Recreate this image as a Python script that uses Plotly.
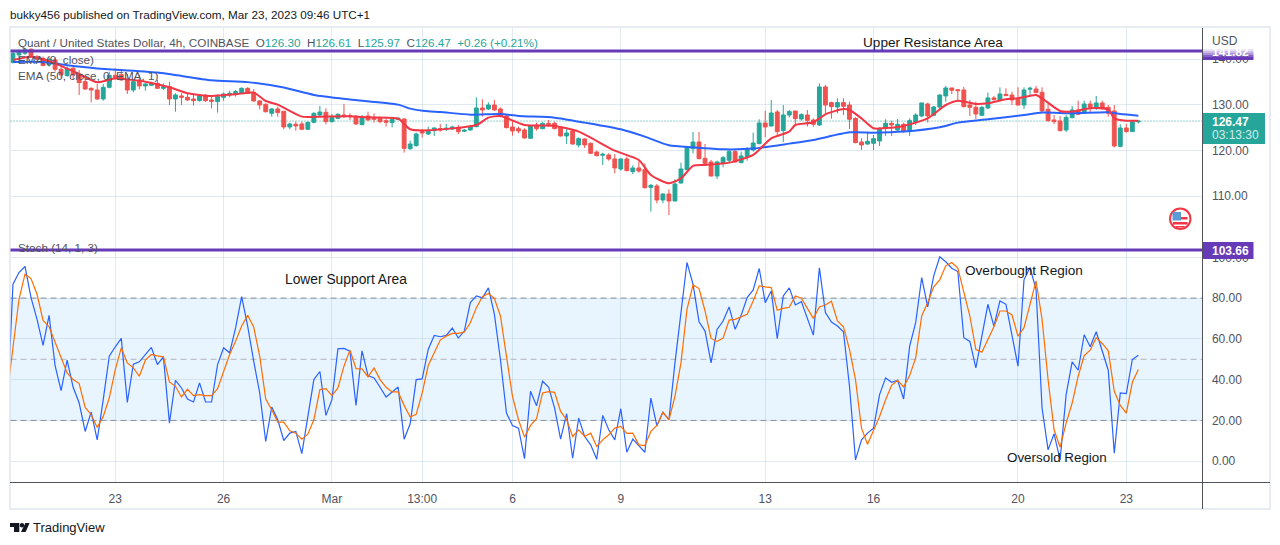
import plotly.graph_objects as go
from plotly.subplots import make_subplots

# 4h candles, Quant / USD, one entry per bar
opens = [139.27, 140.95, 141.31, 142.19, 140.58, 140.22, 138.75, 139.85, 137.81, 136.42,
         138.03, 136.78, 135.1, 133.64, 133.28, 131.31, 133.86, 136.49, 136.64, 135.47,
         133.28, 135.47, 134.16, 134.3, 134.74, 133.64, 134.0, 131.31, 131.97, 131.67,
         131.31, 130.94, 132.11, 131.09, 130.73, 131.67, 132.19, 132.33, 132.55, 133.64,
         132.77, 130.87, 130.14, 128.17, 129.12, 128.61, 125.18, 125.76, 125.83, 124.67,
         126.2, 127.8, 128.39, 126.35, 127.07, 127.8, 127.66, 127.51, 125.69, 127.59,
         127.29, 127.07, 126.56, 126.13, 126.86, 126.93, 120.43, 121.09,
         124.16, 123.64, 124.37, 124.81, 124.67, 124.74, 125.1, 124.23, 124.52, 125.25,
         129.34, 129.12, 129.99, 129.12, 127.59, 125.18, 124.81, 124.52, 122.7, 125.61,
         124.81, 125.98, 125.98, 125.1, 123.21, 124.3, 121.24, 122.55, 121.6, 119.7,
         118.97, 119.05, 118.17, 115.98, 118.17, 115.39, 116.2, 115.83, 111.96, 112.26,
         109.19, 110.5, 108.97, 112.91, 115.83, 120.43, 121.89, 118.31, 117.51, 114.45,
         117.29, 117.88, 119.78, 117.37, 118.68, 120.14, 121.53, 126.05, 125.4, 128.46,
         124.37, 127.8, 128.68, 126.93, 127.8, 126.71, 125.61, 133.94, 130.51, 129.56,
         130.51, 129.99,
         127.07, 121.89, 121.45, 121.6, 122.11, 124.89, 125.98, 124.52, 125.76, 124.16,
         126.13, 127.59, 130.21, 127.73, 129.56, 131.97, 133.72, 133.35, 133.28, 129.99,
         129.48, 127.73, 129.34, 131.53, 131.09, 132.33, 132.18, 131.24, 129.99, 133.43,
         133.5, 132.77, 129.05, 126.71, 126.49, 124.52, 127.22, 128.9, 128.17, 130.21,
         129.41, 130.43, 129.48, 128.68, 120.94, 124.96, 124.16, 126.3]
highs = [142.04, 142.19, 142.55, 142.4, 140.95, 140.58, 140.43, 140.43, 138.39, 138.39,
         138.39, 137.66, 135.84, 133.86, 134.59, 134.59, 137.3, 138.03, 137.66, 136.78,
         135.47, 136.57, 134.74, 135.1, 135.47, 134.74, 135.1, 132.55, 132.55, 132.55,
         132.19, 132.33, 132.4, 132.19, 132.33, 132.7, 133.13, 133.28, 133.86, 133.86,
         133.5, 131.09, 130.36, 129.27, 129.63, 128.68, 126.13, 126.35, 126.35, 126.35,
         128.39, 129.78, 129.27, 128.02, 128.17, 130.21, 128.17, 127.8, 127.8, 128.53,
         128.17, 127.44, 127.07, 127.07, 127.29, 127.07, 122.18, 123.94,
         124.74, 125.25, 125.1, 125.83, 125.83, 125.47, 125.61, 124.74, 125.61, 131.67,
         131.24, 130.58, 131.09, 129.48, 128.02, 126.56, 125.25, 124.89, 125.61, 126.13,
         126.2, 126.71, 126.34, 125.4, 124.81, 124.52, 122.91, 122.7, 121.75, 120.0,
         119.56, 119.41, 119.26, 118.31, 118.68, 116.78, 117.59, 117.22, 112.69, 112.69,
         110.65, 111.53, 113.72, 117.37, 120.87, 124.08, 124.08, 121.45, 117.95, 117.8,
         118.83, 120.29, 120.14, 119.78, 120.72, 123.94, 126.86, 128.75, 131.09, 128.9,
         129.99, 128.9, 128.68, 128.17, 128.9, 127.07, 134.74, 134.37, 130.72, 131.45,
         131.45, 130.72,
         127.29, 122.7, 124.16, 123.42, 125.1, 126.86, 126.56, 126.93, 126.13, 127.07,
         128.17, 130.51, 130.51, 129.78, 132.33, 134.16, 133.72, 133.43, 133.94, 131.09,
         130.72, 129.78, 132.7, 131.97, 133.86, 133.65, 132.91, 133.86, 133.86, 134.01,
         134.16, 133.86, 130.21, 127.8, 127.59, 127.8, 129.78, 130.94, 130.94, 130.94,
         131.97, 130.94, 129.99, 129.99, 125.76, 125.83, 126.71, 126.61]
lows = [139.12, 139.12, 140.95, 140.43, 139.85, 138.54, 138.39, 137.3, 135.84, 136.2,
        135.47, 132.19, 133.28, 130.58, 131.09, 130.94, 133.64, 135.47, 135.32, 132.4,
        132.77, 133.43, 133.13, 134.16, 133.5, 133.28, 129.99, 128.53, 129.99, 130.94,
        129.85, 130.73, 130.65, 129.27, 128.32, 130.94, 131.67, 131.82, 132.4, 132.4,
        130.73, 129.05, 128.32, 127.44, 127.44, 124.67, 124.67, 124.37, 124.52, 124.52,
        125.98, 127.44, 125.76, 126.13, 126.86, 127.22, 126.71, 125.69, 125.54, 126.56,
        126.13, 125.98, 125.25, 125.1, 126.71, 119.56, 120.14, 120.87,
        122.84, 123.42, 123.21, 124.16, 124.3, 124.52, 123.64, 124.08, 124.37, 125.1,
        127.44, 128.9, 128.75, 127.29, 124.89, 123.28, 123.79, 122.62, 122.62, 124.37,
        124.67, 125.25, 124.67, 123.06, 121.45, 121.31, 120.72, 120.58, 119.26, 118.75,
        116.86, 117.8, 115.03, 115.61, 115.47, 114.88, 115.18, 111.67, 106.63, 108.46,
        108.46, 105.9, 108.9, 112.77, 115.69, 119.41, 118.09, 117.07, 114.3, 113.79,
        116.34, 117.37, 117.37, 117.22, 117.8, 119.78, 121.38, 122.91, 125.25, 123.21,
        121.89, 127.29, 125.4, 126.56, 125.25, 125.25, 125.4, 128.17, 127.0, 128.17,
        127.8, 124.74,
        121.6, 120.14, 121.24, 120.14, 121.02, 123.21, 123.21, 124.3, 123.94, 123.21,
        125.61, 127.29, 126.13, 127.59, 129.05, 130.72, 132.4, 130.94, 129.48, 127.59,
        126.93, 127.59, 129.05, 130.94, 130.94, 131.97, 129.99, 129.92, 129.12, 131.82,
        132.55, 128.32, 126.34, 125.83, 124.23, 124.08, 127.07, 127.8, 128.02, 128.32,
        128.9, 129.05, 127.44, 120.72, 120.72, 123.94, 124.08, 125.97]
closes = [141.31, 141.9, 142.19, 140.58, 140.0, 138.61, 140.0, 137.81, 136.57, 138.03,
          136.57, 134.89, 133.5, 133.28, 131.31, 133.86, 136.49, 136.05, 135.47, 133.28,
          135.1, 134.16, 134.59, 134.74, 133.64, 134.0, 131.31, 132.19, 131.67, 131.09,
          130.94, 131.97, 130.94, 130.8, 131.82, 132.4, 132.55, 132.92, 133.64, 132.55,
          130.87, 129.99, 128.53, 129.12, 128.32, 125.18, 125.83, 125.4, 124.67, 126.2,
          128.17, 128.46, 126.35, 127.29, 127.95, 127.44, 127.44, 125.83, 127.44, 126.71,
          126.86, 126.35, 126.2, 126.86, 127.07, 120.5, 121.45, 123.64,
          123.86, 124.37, 124.96, 124.52, 124.89, 125.18, 124.16, 124.45, 125.32, 129.34,
          128.9, 129.99, 128.9, 127.59, 125.03, 124.3, 124.3, 122.77, 125.4, 124.81,
          125.98, 125.69, 124.81, 123.21, 123.86, 121.45, 122.62, 121.24, 119.41, 118.9,
          119.19, 118.17, 116.2, 118.17, 115.61, 116.2, 115.54, 111.89, 112.4, 109.19,
          110.5, 108.97, 112.69, 115.98, 120.72, 121.89, 118.24, 117.22, 114.45, 117.51,
          118.46, 119.78, 117.51, 118.83, 120.29, 121.67, 126.05, 125.18, 128.24, 124.16,
          127.8, 128.54, 127.0, 127.88, 126.64, 125.76, 133.94, 129.99, 129.63, 130.51,
          129.7, 126.86,
          121.75, 121.24, 122.04, 122.62, 124.89, 125.98, 125.61, 125.76, 124.16, 126.56,
          127.8, 130.43, 127.59, 129.56, 132.18, 133.72, 133.21, 133.13, 129.63, 129.48,
          128.02, 129.48, 131.53, 131.16, 132.4, 132.04, 131.09, 129.99, 133.28, 133.65,
          132.7, 128.68, 126.56, 126.34, 124.37, 127.29, 128.9, 127.95, 130.21, 129.48,
          130.43, 129.27, 128.17, 121.02, 124.96, 124.16, 126.34, 126.47]

# moving averages, read at the bars where the curve bends
ema9_bars = [0, 3, 5, 7, 11, 14, 17, 19, 22, 26, 29, 33, 37, 40, 42, 44, 48, 51, 56, 59, 64, 66,
             69, 77, 79, 81, 85, 90, 94, 100, 104, 106, 109, 111, 113, 115, 119, 123, 126, 129,
             130, 133, 135, 138, 139, 141, 143, 146, 148, 152, 155, 157, 160, 162, 165, 167,
             170, 171, 174, 176, 179, 182, 183, 185, 187]
ema9 = [139.85, 140.58, 140.0, 139.1, 136.78, 134.96, 135.83, 135.6, 135.1, 133.86, 132.55,
        131.97, 132.33, 132.7, 130.87, 130.07, 127.44, 127.44, 127.51, 127.29, 127.0, 124.67,
        124.45, 125.61, 127.22, 127.59, 125.61, 125.4, 124.16, 119.98, 117.95, 114.66, 112.84,
        113.93, 116.64, 116.86, 117.37, 119.05, 122.7, 124.16, 125.61, 126.2, 127.95, 129.12,
        128.9, 127.07, 124.89, 125.03, 125.4, 127.07, 129.99, 130.94, 130.2, 130.36, 131.24,
        131.45, 132.18, 131.45, 128.68, 128.54, 129.27, 129.05, 127.07, 126.56, 126.56]
ema50_bars = [0, 5, 9, 14, 24, 33, 39, 45, 50, 56, 64, 66, 69, 71, 76, 81, 84, 90, 95, 101, 105,
              109, 113, 118, 123, 129, 133, 139, 143, 148, 154, 157, 162, 168, 171, 176, 182,
              184, 187]
ema50 = [139.4, 139.4, 138.7, 138.0, 137.1, 135.4, 135.0, 133.8, 132.2, 131.2, 130.07, 129.2,
         128.6, 128.46, 127.88, 128.02, 127.59, 127.22, 126.13, 124.67, 123.06, 121.16, 120.72,
         120.29, 120.44, 121.53, 122.33, 124.0, 123.94, 124.16, 125.1, 126.13, 126.86, 127.8,
         128.32, 128.17, 128.4, 128.02, 127.66]

# stochastic, first entry belongs to the bar just left of the chart
stoch_k = [22.8, 86.84, 92.59, 95.55, 80.28, 69.6, 56.8, 71.57, 46.94, 34.63, 49.57, 36.27, 28.55,
           14.6, 24.12, 10.49, 30.19, 51.54, 56.14, 60.24, 28.88, 47.6, 48.75, 52.36, 55.81,
           47.43, 51.21, 18.7, 39.72, 35.94, 30.52, 29.05, 38.41, 29.05, 29.05, 47.43, 55.65,
           53.18, 65.5, 80.77, 66.32, 49.08, 33.48, 9.67, 26.58, 20.34, 10.16, 13.77, 14.6, 3.76,
           21.98, 40.05, 44.01, 22.48, 30.19, 55.15, 55.32, 54.0, 27.4, 54.17, 42.02, 40.87,
           36.27, 31.51, 33.97, 36.43, 10.82, 18.37, 40.05, 40.37, 54.83,
           61.72, 61.06, 61.72, 65.33, 60.41, 63.85, 77.81, 81.1, 80.11, 85.04, 72.07, 49.9,
           23.63, 17.55, 16.24, 1.29, 34.3, 27.24, 39.23, 36.43, 26.09, 10.82, 23.3, 1.46, 21.16,
           12.13, 8.03, 0.97, 22.48, 15.42, 10.49, 25.76, 4.41, 10.82, 7.53, 4.41, 31.0, 17.39,
           24.12, 20.34, 48.26, 72.89, 97.52, 86.84, 68.45, 63.85, 48.26, 64.68, 68.78, 75.68,
           64.68, 71.57, 80.28, 84.05, 94.56, 77.81, 83.56, 60.08, 81.1, 85.04, 76.66, 78.3,
           70.42, 61.88, 94.89, 72.89, 68.29, 66.32, 63.53, 36.76,
           0.64, 10.49, 13.77, 16.24, 32.66, 40.87, 38.73, 39.72, 30.52, 56.47, 67.96, 90.13,
           75.68, 90.95, 100.31, 97.85, 94.72, 93.08, 60.57, 58.77, 45.79, 61.39, 77.0, 66.32,
           78.63, 77.0, 61.39, 46.61, 88.98, 95.05, 84.38, 26.09, 5.56, 13.45, 0.64, 32.66,
           48.75, 44.64, 62.05, 56.14, 63.53, 54.0, 44.64, 3.9, 33.48, 33.15, 49.9, 52.03]
stoch_d = [32.0, 56.47, 79.45, 91.77, 89.63, 81.92, 69.11, 65.99, 58.11, 50.72, 43.33, 40.05, 38.08,
           26.42, 22.8, 16.57, 21.98, 31.0, 44.97, 55.65, 48.26, 45.79, 41.69, 49.57, 52.36,
           51.7, 51.21, 38.9, 36.76, 31.51, 35.29, 32.17, 32.66, 32.17, 32.17, 35.61, 44.15,
           52.36, 58.93, 66.32, 71.57, 65.83, 51.54, 30.52, 25.27, 19.19, 19.19, 14.93, 13.77,
           10.82, 13.28, 20.34, 35.12, 35.61, 32.17, 35.94, 46.61, 54.5, 45.46, 45.3, 41.36,
           45.79, 40.05, 36.27, 33.97, 33.97, 27.4, 21.65, 22.97, 33.48, 46.94,
           53.18, 59.42, 61.39, 62.71, 62.71, 63.36, 67.96, 75.35, 80.77, 82.25, 79.78, 71.24,
           51.54, 31.84, 20.34, 11.8, 17.55, 20.83, 33.48, 34.13, 33.81, 24.45, 20.34, 12.13,
           15.42, 12.13, 13.77, 7.21, 10.49, 12.95, 16.24, 17.06, 13.61, 13.77, 8.03, 7.7, 14.6,
           17.55, 23.95, 20.34, 31.84, 48.26, 74.53, 86.51, 84.71, 73.71, 60.24, 58.77, 60.41,
           69.27, 69.6, 70.75, 72.07, 78.63, 86.02, 85.53, 85.2, 74.03, 75.02, 75.51, 81.1,
           79.95, 75.35, 70.09, 75.68, 76.66, 78.47, 68.78, 65.99, 54.83,
           40.05, 16.24, 8.36, 15.42, 21.98, 30.19, 37.25, 39.72, 36.43, 42.02, 50.72, 71.24,
           77.81, 85.53, 88.98, 95.87, 97.52, 94.72, 82.74, 71.24, 54.83, 53.51, 59.75, 65.99,
           73.71, 73.71, 71.74, 61.39, 65.5, 77.0, 88.48, 69.6, 40.05, 15.42, 6.88, 18.7, 28.55,
           41.69, 51.87, 54.5, 60.57, 57.78, 54.17, 34.3, 27.4, 23.63, 38.73, 44.97]

date_ticks = [17, 35, 53, 68, 83, 101, 125, 143, 167, 185]
date_labels = ['23', '26', 'Mar', '13:00', '6', '9', '13', '16', '20', '23']
price_ticks = [110, 120, 130, 140]
stoch_ticks = [0, 20, 40, 60, 80, 100]
last_close = 126.47
resistance = 141.82
support = 103.66

FONT = 'Liberation Sans'
GREY = '#50535e'
DARK = '#131722'
GREEN = '#26a69a'
RED = '#ef5350'
PURPLE = '#673ab7'
GRID = 'rgba(170,195,215,0.35)'


# page pixels to paper coordinates
def px(x):
    return x / 1280


def py(y):
    return 1 - y / 545


bars = list(range(len(closes)))
stoch_bars = list(range(-1, len(closes)))

fig = make_subplots(rows=2, cols=1, shared_xaxes=True, vertical_spacing=0)

fig.add_trace(go.Candlestick(x=bars, open=opens, high=highs, low=lows, close=closes,
                             increasing=dict(line=dict(color=GREEN, width=1), fillcolor=GREEN),
                             decreasing=dict(line=dict(color=RED, width=1), fillcolor=RED),
                             whiskerwidth=0), row=1, col=1)
fig.add_trace(go.Scatter(x=ema50_bars, y=ema50, mode='lines',
                         line=dict(color='#2962ff', width=2, shape='spline', smoothing=0.6)), row=1, col=1)
fig.add_trace(go.Scatter(x=ema9_bars, y=ema9, mode='lines',
                         line=dict(color='#f23645', width=2, shape='spline', smoothing=0.6)), row=1, col=1)
fig.add_trace(go.Scatter(x=stoch_bars, y=stoch_k, mode='lines', line=dict(color='#2962ff', width=1.2)), row=2, col=1)
fig.add_trace(go.Scatter(x=stoch_bars, y=stoch_d, mode='lines', line=dict(color='#ff6d00', width=1.2)), row=2, col=1)

shapes = []


def add_rect(x0, y0, x1, y1, fill, line=None, width=0, layer='above', kind='rect'):
    shapes.append(dict(type=kind, xref='paper', yref='paper', x0=px(x0), x1=px(x1), y0=py(y0), y1=py(y1),
                       fillcolor=fill, line=dict(color=line or fill, width=width), layer=layer))


def add_path(points, fill):
    path = 'M' + ' L'.join(f'{px(x):.5f},{py(y):.5f}' for x, y in points) + ' Z'
    shapes.append(dict(type='path', xref='paper', yref='paper', path=path, fillcolor=fill,
                       line=dict(width=0), layer='above'))


# frame around the chart
shapes.append(dict(type='rect', xref='paper', yref='paper', x0=px(10), x1=px(1270), y0=py(27), y1=py(509),
                   line=dict(color='#e8ecf1', width=2), layer='below'))
# stochastic band and levels
shapes.append(dict(type='rect', xref='x2 domain', yref='y2', x0=0, x1=1, y0=20, y1=80,
                   fillcolor='rgba(33,150,243,0.1)', line=dict(width=0), layer='below'))
for level, colour in [(80, '#787b86'), (50, '#b2b5be'), (20, '#787b86')]:
    shapes.append(dict(type='line', xref='x2 domain', yref='y2', x0=0, x1=1, y0=level, y1=level,
                       line=dict(color=colour, width=1, dash='6px,4px'), layer='below'))
# last price dotted line
shapes.append(dict(type='line', xref='x domain', yref='y', x0=0, x1=1, y0=last_close, y1=last_close,
                   line=dict(color=GREEN, width=1, dash='1px,2px'), layer='below'))
# the two drawn levels
shapes.append(dict(type='line', xref='x domain', yref='y', x0=0, x1=1, y0=resistance, y1=resistance,
                   line=dict(color=PURPLE, width=3), layer='above'))
shapes.append(dict(type='line', xref='x2 domain', yref='y2', x0=0, x1=1, y0=support, y1=support,
                   line=dict(color=PURPLE, width=3), layer='above'))
# axis borders
shapes.append(dict(type='line', xref='paper', yref='paper', x0=px(1202.5), x1=px(1202.5), y0=py(28), y1=py(509),
                   line=dict(color=GREY, width=1), layer='above'))
shapes.append(dict(type='line', xref='paper', yref='paper', x0=px(10), x1=px(1270), y0=py(482.5), y1=py(482.5),
                   line=dict(color=GREY, width=1), layer='above'))
# price badges, the upper one fades out towards the top of the axis
add_rect(1203, 113, 1265, 144, GREEN)
add_rect(1203, 242, 1253.5, 259, PURPLE)
add_rect(1203, 49, 1253.5, 51, 'rgba(103,58,183,0.15)')
add_rect(1203, 51, 1253.5, 53, 'rgba(103,58,183,0.35)')
add_rect(1203, 53, 1253.5, 55, 'rgba(103,58,183,0.55)')
add_rect(1203, 55, 1253.5, 57, 'rgba(103,58,183,0.8)')
add_rect(1203, 57, 1253.5, 60, PURPLE)

# flag badge
add_rect(1170, 208.5, 1190.5, 229, 'white', line='#f23645', width=2, kind='circle')
add_rect(1173, 217, 1187.5, 219.5, '#f23645')
add_rect(1173, 222, 1187.5, 224.5, '#f23645')
add_rect(1176, 226, 1184.5, 227.5, '#f23645')
add_rect(1172.5, 212, 1181, 220.5, '#5a9bd5')

# TradingView mark
add_path([(10, 523), (19.3, 523), (19.3, 532), (14, 532), (14, 527), (10, 527)], '#131722')
add_rect(19.8, 523, 24.2, 527.4, '#131722', kind='circle')
add_path([(25.4, 523), (29.6, 523), (25.6, 532), (21, 532)], '#131722')


def label(x, y, text, size=11.7, color=GREY):
    # annotations sit about 2px right of the given x
    return dict(xref='paper', yref='paper', x=px(x - 2), y=py(y), text=text, showarrow=False,
                xanchor='left', yanchor='middle', font=dict(family=FONT, size=size, color=color))


def ohlc(letter, value):
    return f'{letter}<span style="color:{GREEN}">{value}</span>'


legend_line = ('Quant / United States Dollar, 4h, COINBASE&nbsp;&nbsp;' + ohlc('O', '126.30') + '&nbsp;&nbsp;'
               + ohlc('H', '126.61') + '&nbsp;&nbsp;' + ohlc('L', '125.97') + '&nbsp;&nbsp;' + ohlc('C', '126.47')
               + f'&nbsp;&nbsp;<span style="color:{GREEN}">+0.26 (+0.21%)</span>')

annotations = [
    label(10, 14, 'bukky456 published on TradingView.com, Mar 23, 2023 09:46 UTC+1', color=DARK),
    label(18, 42, legend_line),
    label(18, 59, 'EMA (9, close)'),
    label(18, 75, 'EMA (50, close, 0, EMA, 1)'),
    label(18, 247, 'Stoch (14, 1, 3)'),
    label(863, 42, 'Upper Resistance Area', size=13.6, color=DARK),
    label(285, 279, 'Lower Support Area', size=13.8, color=DARK),
    label(965, 270, 'Overbought Region', size=13.6, color=DARK),
    label(1007, 457, 'Oversold Region', size=13.4, color=DARK),
    label(1212, 41, 'USD', size=12),
    label(1212, 122, f'<b>{last_close:.2f}</b>', size=12, color='white'),
    label(1212, 135, '03:13:30', size=12, color='rgba(255,255,255,0.8)'),
    label(1212, 52.5, f'<b>{resistance:.2f}</b>', size=12, color='white'),
    label(1212, 250.5, f'<b>{support:.2f}</b>', size=12, color='white'),
    label(33, 527, 'TradingView', size=13, color=DARK),
]

fig.update_layout(
    width=1280, height=545,
    margin=dict(l=0, r=0, t=0, b=0),
    paper_bgcolor='white', plot_bgcolor='white',
    showlegend=False,
    boxgap=0.2, boxgroupgap=0.2,
    shapes=shapes,
    annotations=annotations,
    font=dict(family=FONT, size=12, color=GREY),
)
fig.update_xaxes(domain=[px(10.5), px(1202.5)], range=[-0.41, 197.66], rangeslider_visible=False,
                 tickmode='array', tickvals=date_ticks, ticktext=date_labels,
                 showgrid=True, gridcolor=GRID, gridwidth=1, zeroline=False,
                 ticks='outside', ticklen=6, tickcolor='rgba(0,0,0,0)')
fig.update_xaxes(showticklabels=False, ticks='', row=1, col=1)
fig.update_yaxes(side='right', showgrid=True, gridcolor=GRID, gridwidth=1, zeroline=False,
                 tickmode='array', ticks='outside', ticklen=6, tickcolor='rgba(0,0,0,0)')
fig.update_yaxes(domain=[py(232), py(28)], range=[102.18, 146.85], tickvals=price_ticks,
                 tickformat='.2f', row=1, col=1)
fig.update_yaxes(domain=[py(482), py(232)], range=[-10.2, 112.46], tickvals=stoch_ticks,
                 tickformat='.2f', row=2, col=1)

fig.write_html("out.html", config={'displayModeBar': False},
               post_script="document.body.style.margin='0';document.body.style.overflow='hidden';")
